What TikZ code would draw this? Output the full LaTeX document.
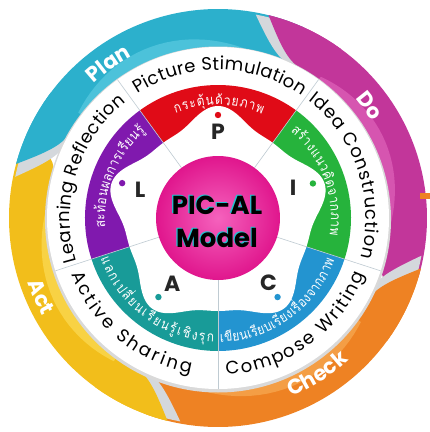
\documentclass[tikz,border=0pt]{standalone}
\usepackage{fontspec}
\setmainfont{Poppins}
\newfontfamily\thaifont[Script=Thai, FakeStretch=0.85]{Loma}
\usetikzlibrary{decorations.text}

\definecolor{plancol}{HTML}{2CB0CC}
\definecolor{planlight}{HTML}{4CC2DA}
\definecolor{docol}{HTML}{C2369A}
\definecolor{dolight}{HTML}{D655B0}
\definecolor{checkcol}{HTML}{EE8223}
\definecolor{checklight}{HTML}{F49E45}
\definecolor{actcol}{HTML}{F2BE1B}
\definecolor{actlight}{HTML}{F8D244}
\definecolor{pcol}{HTML}{E00B17}
\definecolor{icol}{HTML}{26B33C}
\definecolor{ccol}{HTML}{2394D0}
\definecolor{acol}{HTML}{189B98}
\definecolor{lcol}{HTML}{8019AE}
\definecolor{shadowcol}{HTML}{D4D8DC}
\definecolor{linecol}{HTML}{BFCBD2}
\definecolor{pinkin}{HTML}{F562BD}
\definecolor{pinkout}{HTML}{E0168D}
\definecolor{outlinecol}{HTML}{22C4D2}

% band body: colour, end angle, tip angle
\newcommand{\bandbody}[3]{%
  \fill[#1] (#3:209) arc[start angle=#3, end angle=#2, radius=209]
    arc[start angle=#2, end angle=#2-180, radius=19]
    arc[start angle=#2, end angle=#3-15, radius=171]
    -- plot[domain=#3-15:#3, samples=16] (\x:{171+38*((\x-(#3)+15)/15)^2}) -- cycle;}
% lighter inner part: colour, from, to
\newcommand{\bandlight}[3]{%
  \fill[#1] (#2:171) -- plot[domain=#2:#3, samples=30] (\x:{171+13*sin(180*(\x-(#2))/((#3)-(#2)))}) -- cycle;}
% band tip with its shadow: colour, tip angle
\newcommand{\tippath}[1]{(#1:209) arc[start angle=#1, end angle=#1-22, radius=209]
    -- (#1-22:171) arc[start angle=#1-22, end angle=#1-15, radius=171]
    -- plot[domain=#1-15:#1, samples=16] (\x:{171+38*((\x-(#1)+15)/15)^2}) -- cycle}
\newcommand{\bandtip}[2]{%
  \fill[shadowcol, rotate=3.5, scale=0.99] \tippath{#2};
  \fill[#1] \tippath{#2};}

\tikzset{
  letter/.style={font=\bfseries\fontsize{22}{22}\selectfont, text=black!85},
  dot/.style={circle, inner sep=0pt, minimum size=6.4pt},
  title/.style={font=\bfseries\fontsize{26}{26}\selectfont},
  ringlabel/.style={decorate, decoration={text along path, text align={fit to path},
      text={|\fontsize{18}{18}\selectfont|#1}}},
  bandlabel/.style={decorate, decoration={text along path, text align={fit to path},
      text color=white, text={|\thaifont\fontsize{14}{14}\selectfont|#1}}},
  pdcalabel/.style={decorate, decoration={text along path, text align=center,
      text color=white, text={|\bfseries\fontsize{21}{21}\selectfont|#1}}},
}

\begin{document}
\begin{tikzpicture}[x=1pt, y=1pt]
\useasboundingbox (-218,-214) rectangle (212,218);
        % Draw the PDCA bands
        \bandbody{plancol}{66}{165}
        \bandbody{docol}{-16}{76}
        \bandbody{checkcol}{-110}{-14}
        \bandbody{actcol}{-195}{-104}
        \bandlight{planlight}{80}{150}
        \bandlight{dolight}{-5}{60}
        \bandlight{checklight}{-100}{-25}
        \bandlight{actlight}{-185}{-115}
        \bandtip{plancol}{165}
        \bandtip{docol}{76}
        \bandtip{checkcol}{-14}
        \bandtip{actcol}{-104}
        \fill[checkcol] (202,19) rectangle (212,25);
        \path[pdcalabel={Plan}]  (155.4:183) arc[start angle=155.4, end angle=95.4, radius=183];
        \path[pdcalabel={Do}]    (66.6:182) arc[start angle=66.6, end angle=6.6, radius=182];
        \path[pdcalabel={Check}] (-87.5:193) arc[start angle=-87.5, end angle=-27.5, radius=193];
        \path[pdcalabel={Act}]   (-186:201) arc[start angle=-186, end angle=-126, radius=201];
        % Draw the rings
        \fill[black!15] (0,-1.5) circle (173);
        \fill[white] (0,0) circle (171);
        \foreach \a/\col in {54/pcol, -18/icol, -90/ccol, -162/acol, 126/lcol}
            \fill[\col] (0,0) -- (\a:133) arc[start angle=\a, end angle=\a+72, radius=133] -- cycle;
        \fill[white] plot[domain=0:360, samples=361] (\x:{93+19*((1+cos(5*(\x-90)))/2)^2}) -- cycle;
        \foreach \a in {54,126,198,270,342}
            \draw[linecol, line width=0.6] (\a:62) -- (\a:171);
        \shade[inner color=pinkin, outer color=pinkout] (0,0) circle (62);
        % Step names on the white ring
        \path[ringlabel={Picture Stimulation}] (123:148) arc[start angle=123, end angle=55.5, radius=148];
        \path[ringlabel={Idea Construction}]   (52.5:148) arc[start angle=52.5, end angle=-15.5, radius=148];
        \path[ringlabel={Compose Writing}]     (-87:157) arc[start angle=-87, end angle=-21, radius=157];
        \path[ringlabel={Active Sharing}]      (-159:157) arc[start angle=-159, end angle=-100, radius=157];
        \path[ringlabel={Learning Reflection}] (197:148) arc[start angle=197, end angle=128.5, radius=148];
        % Thai names on the coloured band
        \path[bandlabel={กระ{ตุ้}น{ด้}วยภาพ}] (112:113) arc[start angle=112, end angle=67, radius=113];
        \path[bandlabel={ส{ร้}างแนว{คิ}ดจากภาพ}] (50:113) arc[start angle=50, end angle=-9, radius=113];
        \path[bandlabel={เ{ขี}ยนเ{รี}ยบเ{รี}ยงเ{รื่}องจากภาพ}] (-89:124) arc[start angle=-89, end angle=-20, radius=124];
        \path[bandlabel={แลกเป{ลี่}ยนเ{รี}ยน{รู้}เ{ชิ}ง{รุ}ก}] (-161:124) arc[start angle=-161, end angle=-92, radius=124];
        \path[bandlabel={สะ{ท้}อนผลการเ{รี}ยน{รู้}}] (185:113) arc[start angle=185, end angle=130, radius=113];
        % Draw the letters and dots
        \node[letter] at (90:86)   (p) {P};
        \node[letter] at (22:81)   (i) {I};
        \node[letter] at (-52:82)  (c) {C};
        \node[letter] at (-125:80) (a) {A};
        \node[letter] at (160:83)  (l) {L};
        \node[dot, fill=pcol] at (90:103)  (pdot) {};
        \node[dot, fill=icol] at (20:101)  (idot) {};
        \node[dot, fill=ccol] at (-53:99)  (cdot) {};
        \node[dot, fill=acol] at (-127:99) (adot) {};
        \node[dot, fill=lcol] at (160:102) (ldot) {};
        % Model name in the middle
        \node[title, text=outlinecol] at (-2.2,14) (picshadow) {PIC-AL};
        \node[title, text=outlinecol] at (-2.2,-19) (modelshadow) {Model};
        \node[title] at (-1,13)  (pic)   {PIC-AL};
        \node[title] at (-1,-20) (model) {Model};
\end{tikzpicture}
\end{document}
